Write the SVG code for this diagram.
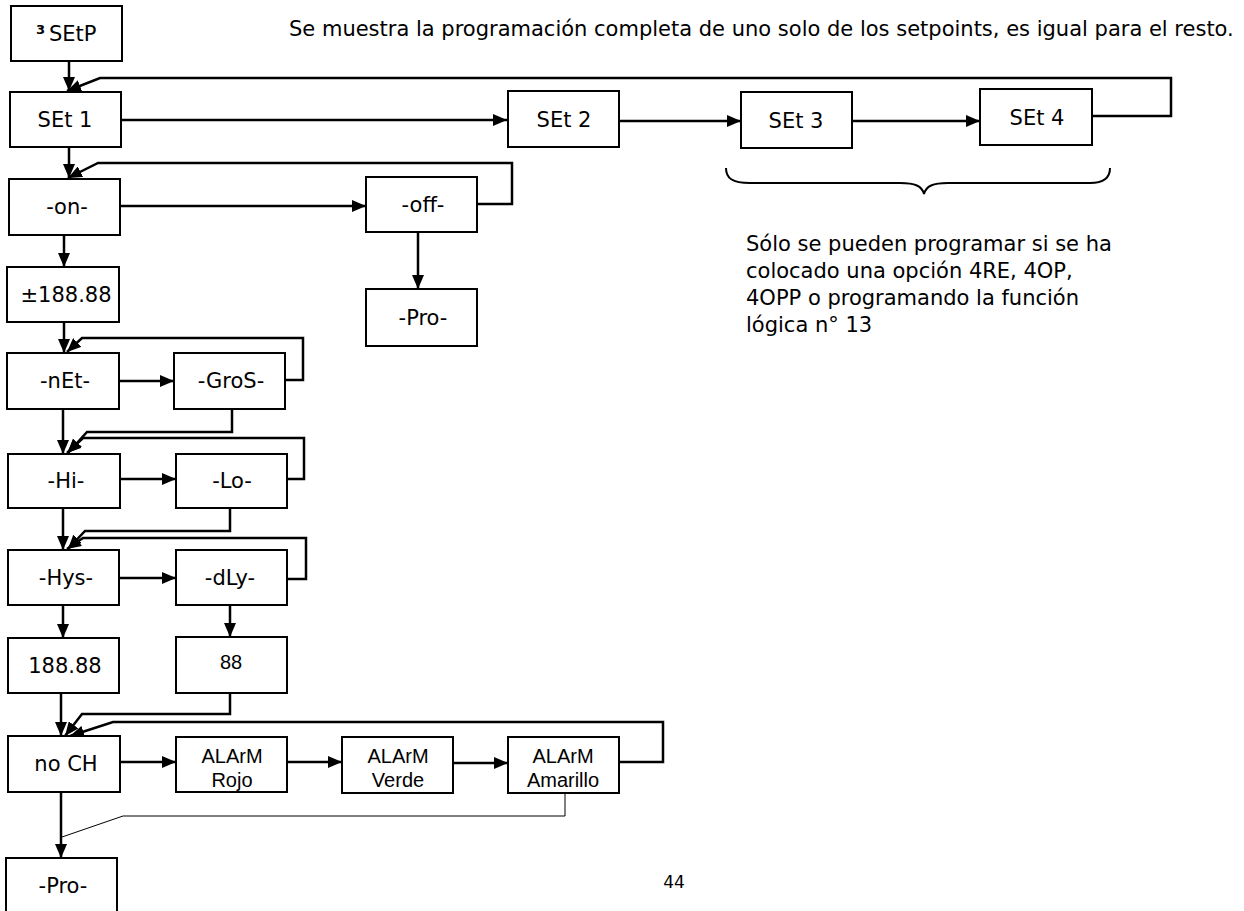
<svg xmlns="http://www.w3.org/2000/svg" width="1244" height="911" viewBox="0 0 1244 911">
<style>
.box{fill:#fff;stroke:#000;stroke-width:2}
.lbl{font-family:"DejaVu Sans",Verdana,sans-serif;font-size:21px;text-anchor:middle;fill:#000}
.alm{font-family:"Liberation Sans",Arial,sans-serif;font-size:20px;text-anchor:middle;fill:#000}
.txt{font-family:"DejaVu Sans",Verdana,sans-serif;font-size:21px;fill:#000}
.c{fill:none;stroke:#000;stroke-width:2.5;marker-end:url(#ah)}
.thin{fill:none;stroke:#000;stroke-width:1}
</style>
<defs>
<marker id="ah" viewBox="0 0 14 12" refX="14" refY="6" markerWidth="14" markerHeight="12" markerUnits="userSpaceOnUse" orient="auto"><path d="M0,0 L14,6 L0,12 z" fill="#000"/></marker>
</defs>
<rect width="1244" height="911" fill="#fff"/>
<g id="connectors">
<path class="c" d="M69,61 V91"/>
<path class="c" d="M1092,116 H1171 V78 H100 L67,91"/>
<path class="c" d="M121,120 H507"/>
<path class="c" d="M619,121 H741"/>
<path class="c" d="M852,121 H980"/>
<path class="c" d="M69,147 V178"/>
<path class="c" d="M477,204 H512 V163 H98 L68,178"/>
<path class="c" d="M120,206 H366"/>
<path class="c" d="M418,232 V289"/>
<path class="c" d="M64,235 V267"/>
<path class="c" d="M64,322 V353"/>
<path class="c" d="M119,381 H174"/>
<path class="c" d="M285,380 H303 V338 H82 L67,352"/>
<path class="c" d="M63,409 V454"/>
<path class="c" d="M232,409 V432 H87 L68,453"/>
<path class="c" d="M120,479 H176"/>
<path class="c" d="M287,479 H304 V438 H83 L67,453"/>
<path class="c" d="M63,508 V550"/>
<path class="c" d="M230,508 V531 H85 L68,549"/>
<path class="c" d="M119,578 H176"/>
<path class="c" d="M287,579 H306 V538 H83 L67,549"/>
<path class="c" d="M63,605 V638"/>
<path class="c" d="M230,605 V637"/>
<path class="c" d="M61,693 V736"/>
<path class="c" d="M230,693 V714 H82 L65,736"/>
<path class="c" d="M120,762 H176"/>
<path class="c" d="M287,762 H342"/>
<path class="c" d="M453,763 H508"/>
<path class="c" d="M619,762 H663 V722 H113 L70,736"/>
<path class="c" d="M61,792 V858"/>
<path class="thin" d="M565,793 V816 H123 L62,837"/>
</g>
<g id="n-setp"><rect class="box" x="11" y="6" width="111" height="55"/><text class="txt" x="36" y="41" style="word-spacing:-3px"><tspan font-weight="bold">³</tspan> SEtP</text></g>
<g id="n-set1"><rect class="box" x="10" y="92" width="111" height="55"/><text class="lbl" x="65" y="127">SEt 1</text></g>
<g id="n-set2"><rect class="box" x="508" y="91" width="111" height="56"/><text class="lbl" x="564" y="127">SEt 2</text></g>
<g id="n-set3"><rect class="box" x="741" y="92" width="111" height="56"/><text class="lbl" x="796" y="128">SEt 3</text></g>
<g id="n-set4"><rect class="box" x="980" y="89" width="112" height="56"/><text class="lbl" x="1037" y="125">SEt 4</text></g>
<g id="n-on"><rect class="box" x="9" y="179" width="111" height="56"/><text class="lbl" x="67" y="214">-on-</text></g>
<g id="n-off"><rect class="box" x="366" y="177" width="111" height="55"/><text class="lbl" x="423" y="212">-off-</text></g>
<g id="n-pro1"><rect class="box" x="366" y="289" width="111" height="57"/><text class="lbl" x="423" y="325">-Pro-</text></g>
<g id="n-val"><rect class="box" x="7" y="267" width="112" height="55"/><text class="lbl" x="66" y="302">±188.88</text></g>
<g id="n-net"><rect class="box" x="7" y="353" width="112" height="56"/><text class="lbl" x="65" y="388">-nEt-</text></g>
<g id="n-gros"><rect class="box" x="174" y="353" width="111" height="56"/><text class="lbl" x="231" y="388">-GroS-</text></g>
<g id="n-hi"><rect class="box" x="8" y="454" width="112" height="54"/><text class="lbl" x="66" y="488">-Hi-</text></g>
<g id="n-lo"><rect class="box" x="176" y="454" width="111" height="54"/><text class="lbl" x="232" y="488">-Lo-</text></g>
<g id="n-hys"><rect class="box" x="8" y="550" width="111" height="55"/><text class="lbl" x="66" y="585">-Hys-</text></g>
<g id="n-dly"><rect class="box" x="176" y="550" width="111" height="55"/><text class="lbl" x="230" y="585">-dLy-</text></g>
<g id="n-hysv"><rect class="box" x="8" y="638" width="111" height="55"/><text class="lbl" x="65" y="673">188.88</text></g>
<g id="n-dlyv"><rect class="box" x="176" y="637" width="111" height="56"/><text class="alm" x="231" y="669">88</text></g>
<g id="n-noch"><rect class="box" x="8" y="736" width="112" height="56"/><text class="lbl" x="66" y="771">no CH</text></g>
<g id="n-rojo"><rect class="box" x="176" y="737" width="111" height="55"/><text class="alm" x="232" y="763">ALArM</text><text class="alm" x="232" y="787">Rojo</text></g>
<g id="n-verde"><rect class="box" x="342" y="737" width="111" height="56"/><text class="alm" x="398" y="763">ALArM</text><text class="alm" x="398" y="787">Verde</text></g>
<g id="n-amar"><rect class="box" x="508" y="737" width="111" height="56"/><text class="alm" x="563" y="763">ALArM</text><text class="alm" x="563" y="787">Amarillo</text></g>
<g id="n-pro2"><rect class="box" x="6" y="858" width="111" height="56"/><text class="lbl" x="63" y="893">-Pro-</text></g>
<g id="brace"><path class="thin" style="stroke-width:2" d="M726,168 C726,178 732,183 750,183 H900 C915,183 922,186 924,194 C926,186 933,183 948,183 H1090 C1104,183 1110,178 1110,168"/></g>
<text class="txt" x="289" y="36">Se muestra la programación completa de uno solo de los setpoints, es igual para el resto.</text>
<text class="txt" x="746" y="251">Sólo se pueden programar si se ha</text>
<text class="txt" x="746" y="278">colocado una opción 4RE, 4OP,</text>
<text class="txt" x="746" y="305">4OPP o programando la función</text>
<text class="txt" x="746" y="332">lógica n° 13</text>
<text class="txt" x="674" y="888" style="font-size:17px;text-anchor:middle">44</text>
</svg>
